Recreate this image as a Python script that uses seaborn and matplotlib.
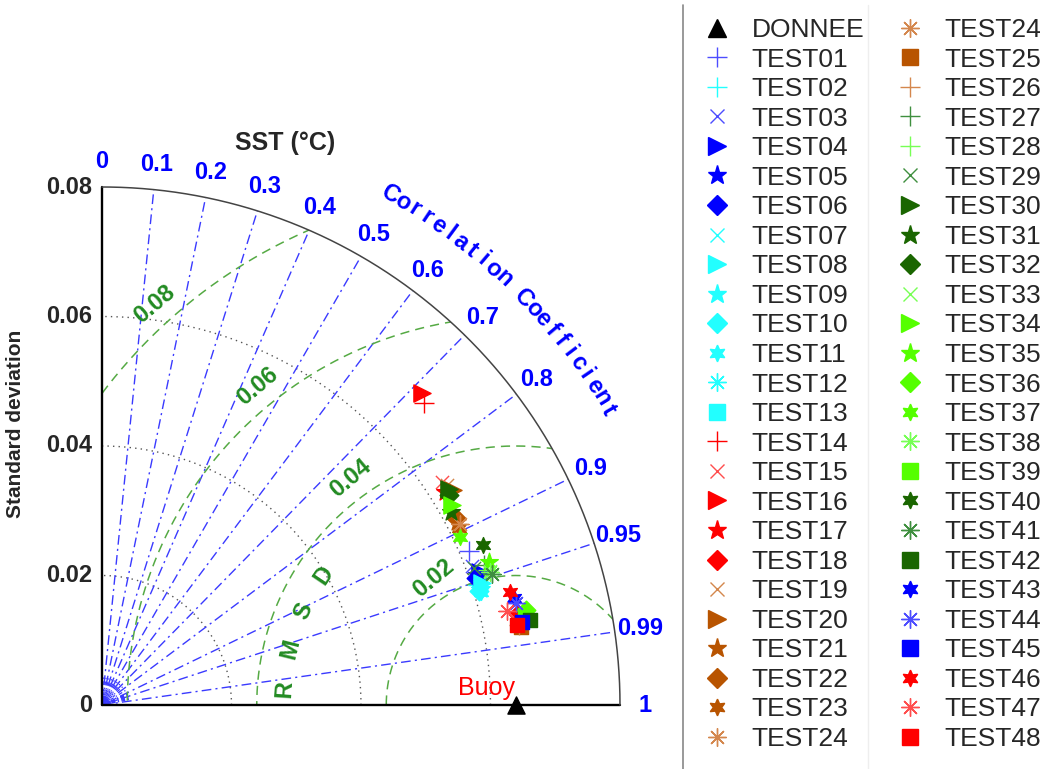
import numpy as np
import matplotlib
matplotlib.use("Agg")
import matplotlib.pyplot as plt
from matplotlib.lines import Line2D
from matplotlib.patches import Wedge
import seaborn as sns

# Data: standard deviation and correlation of each run against the buoy
names = ["DONNEE"] + ["TEST%02d" % i for i in range(1, 49)]
std_dev = [0.0639,
           0.0615, 0.0610, 0.0610, 0.0619, 0.0613, 0.0610, 0.0613, 0.0616,
           0.0613, 0.0609, 0.0611, 0.0612, 0.0658, 0.0682, 0.0628, 0.0690,
           0.0624, 0.0657, 0.0632, 0.0636, 0.0617, 0.0618, 0.0615, 0.0620,
           0.0658, 0.0656, 0.0628, 0.0632, 0.0612, 0.0631, 0.0616, 0.0626,
           0.0634, 0.0623, 0.0637, 0.0671, 0.0611, 0.0633, 0.0668, 0.0638,
           0.0635, 0.0674, 0.0657, 0.0659, 0.0661, 0.0654, 0.0642, 0.0653]
corr = [1.0,
        0.922, 0.953, 0.936, 0.943, 0.945, 0.947, 0.953, 0.952,
        0.956, 0.957, 0.958, 0.955, 0.981, 0.729, 0.836, 0.716,
        0.849, 0.977, 0.843, 0.853, 0.889, 0.884, 0.896, 0.892,
        0.983, 0.982, 0.939, 0.944, 0.938, 0.849, 0.875, 0.855,
        0.945, 0.868, 0.938, 0.976, 0.905, 0.946, 0.978, 0.922,
        0.948, 0.981, 0.968, 0.971, 0.981, 0.964, 0.974, 0.982]
ref_std = std_dev[0]

std_ticks = [0, 0.02, 0.04, 0.06, 0.08]
std_arcs = [0.02, 0.04, 0.06]
corr_ticks = [0, 0.1, 0.2, 0.3, 0.4, 0.5, 0.6, 0.7, 0.8, 0.9, 0.95, 0.99, 1]
corr_minor = [0.05, 0.15, 0.25, 0.35, 0.45, 0.55, 0.65, 0.75, 0.85,
              0.91, 0.92, 0.93, 0.94, 0.96, 0.97, 0.98]
rmsd_levels = [0.02, 0.04, 0.06, 0.08]
std_max = 0.08

# styles (marker, colour) for each run
BLUE, BLUE_L = "#0000ff", "#4d4dff"
CYAN = "#22ffff"
RED, RED_L = "#ff0000", "#ff4d4d"
BROWN, BROWN_L = "#b85400", "#d4874d"
DGREEN, MGREEN = "#1a6600", "#3f8f3f"
LGREEN, LGREEN_L = "#55ff00", "#77ff55"
STAR6 = (6, 1, 0)
AST = (8, 2, 0)
style = {
    "DONNEE": ("^", "black"),
    "TEST01": ("+", BLUE_L), "TEST02": ("+", CYAN), "TEST03": ("x", BLUE_L),
    "TEST04": (">", BLUE), "TEST05": ("*", BLUE), "TEST06": ("D", BLUE),
    "TEST07": ("x", CYAN), "TEST08": (">", CYAN), "TEST09": ("*", CYAN),
    "TEST10": ("D", CYAN), "TEST11": (STAR6, CYAN), "TEST12": (AST, CYAN),
    "TEST13": ("s", CYAN), "TEST14": ("+", RED), "TEST15": ("x", RED_L),
    "TEST16": (">", RED), "TEST17": ("*", RED), "TEST18": ("D", RED),
    "TEST19": ("x", BROWN_L), "TEST20": (">", BROWN), "TEST21": ("*", BROWN),
    "TEST22": ("D", BROWN), "TEST23": (STAR6, BROWN), "TEST24": (AST, BROWN_L),
    "TEST25": ("s", BROWN), "TEST26": ("+", BROWN_L), "TEST27": ("+", MGREEN),
    "TEST28": ("+", LGREEN_L), "TEST29": ("x", MGREEN), "TEST30": (">", DGREEN),
    "TEST31": ("*", DGREEN), "TEST32": ("D", DGREEN), "TEST33": ("x", LGREEN_L),
    "TEST34": (">", LGREEN), "TEST35": ("*", LGREEN), "TEST36": ("D", LGREEN),
    "TEST37": (STAR6, LGREEN), "TEST38": (AST, LGREEN_L), "TEST39": ("s", LGREEN),
    "TEST40": (STAR6, DGREEN), "TEST41": (AST, MGREEN), "TEST42": ("s", DGREEN),
    "TEST43": (STAR6, BLUE), "TEST44": (AST, BLUE_L), "TEST45": ("s", BLUE),
    "TEST46": (STAR6, RED), "TEST47": (AST, RED_L), "TEST48": ("s", RED),
}
# marker sizes (points) by marker kind
msize = {"^": 13, ">": 13, "*": 14, "D": 10, "s": 11, "+": 15, "x": 10,
         STAR6: 12, AST: 13}
LINE_MARKERS = ("+", "x", AST)

sns.set_theme(style="white")
plt.rcParams["font.family"] = ["Liberation Sans", "DejaVu Sans"]

fig = plt.figure(figsize=(10.53, 7.69), dpi=100)
PX = 6475.0  # pixels per std unit
ax = fig.add_axes([0, 0, 680 / 1053, 1])
ax.set_xlim(-102 / PX, 578 / PX)
ax.set_ylim(-64 / PX, 705 / PX)
ax.axis("off")


def pix(xp, yp):
    return (xp - 102) / PX, (705 - yp) / PX


# frame
ax.plot([0, 0], [0, std_max], color="black", lw=1.7, zorder=3)
ax.plot([0, std_max], [0, 0], color="black", lw=1.7, zorder=3)
th = np.linspace(0, np.pi / 2, 300)
ax.plot(std_max * np.cos(th), std_max * np.sin(th), color="#444444", lw=1.1, zorder=3)

# standard deviation arcs
for r in std_arcs:
    ax.plot(r * np.cos(th), r * np.sin(th), color="#555555", lw=1, ls=(0, (1, 3)), zorder=1)

# correlation rays
for c in corr_ticks[1:-1]:
    a = np.arccos(c)
    ax.plot([0, std_max * np.cos(a)], [0, std_max * np.sin(a)], color="#3a3aff",
            lw=1.0, ls=(0, (7, 3, 1.5, 3)), zorder=1)
for c in corr_minor:
    a = np.arccos(c)
    ax.plot([0, 0.0045 * np.cos(a)], [0, 0.0045 * np.sin(a)], color="#3a3aff",
            lw=0.9, ls=(0, (3, 2, 1, 2)), zorder=1)

# correlation labels
for c in corr_ticks:
    a = np.arccos(c)
    ax.text(0.0839 * np.cos(a), 0.0839 * np.sin(a), "%g" % c, color="blue",
            fontsize=17, fontweight="bold", ha="center", va="center")

title = "Correlation Coefficient"
angs = np.linspace(np.radians(60.5), np.radians(30.2), len(title))
for ch, a in zip(title, angs):
    ax.text(0.0905 * np.cos(a), 0.0905 * np.sin(a), ch, color="blue", fontsize=17,
            fontweight="bold", ha="center", va="center",
            rotation=np.degrees(a) - 90, rotation_mode="anchor")

# RMSD contours around the reference, kept inside the quadrant
clip = Wedge((0, 0), std_max, 0, 90, transform=ax.transData)
tc = np.linspace(0, np.pi, 400)
for r in rmsd_levels:
    ln, = ax.plot(ref_std + r * np.cos(tc), r * np.sin(tc), color="#55aa44",
                  lw=1.1, ls=(0, (6, 4)), zorder=2)
    ln.set_clip_path(clip)
    a = np.radians(120 + 150 * r)
    ax.text(ref_std + (r + 0.0033) * np.cos(a), (r + 0.0033) * np.sin(a), "%g" % r,
            color="#228b22", fontsize=17, fontweight="bold", ha="center",
            va="center", rotation=40)
for i, ch in enumerate("RMSD"):
    a = np.radians(176 - 10 * i)
    ax.text(ref_std + 0.0358 * np.cos(a), 0.0358 * np.sin(a), ch, color="#228b22",
            fontsize=17, fontweight="bold", ha="center", va="center",
            rotation=np.degrees(a) - 90)

# y ticks and labels
for v in std_ticks:
    ax.text(-10 / PX, v, "%g" % v, fontsize=17, fontweight="bold",
            ha="right", va="center")
ax.text(*pix(285, 143), "SST (°C)", fontsize=18, fontweight="bold",
        ha="center", va="center")
ax.text(*pix(16, 424), "Standard deviation", fontsize=15, fontweight="bold",
        ha="center", va="center", rotation=90)
ax.text(ref_std - 1 / PX, 5 / PX, "Buoy", color="red", fontsize=18,
        ha="right", va="bottom")

# points
for n, s, c in zip(names, std_dev, corr):
    m, col = style[n]
    a = np.arccos(c)
    filled = m not in LINE_MARKERS
    kw = dict(edgecolor=col) if filled else {}
    sns.scatterplot(x=[s * np.cos(a)], y=[s * np.sin(a)], marker=m, color=col,
                    s=(msize[m] * 0.95) ** 2, linewidth=1.0, ax=ax, legend=False,
                    zorder=6 if n == "DONNEE" else 5, clip_on=False, **kw)

# legend: two columns, TEST24 repeated as in the original
order = names[:25] + names[24:]
handles = []
for n in order:
    m, col = style[n]
    handles.append(Line2D([], [], ls="none", marker=m, color=col, markeredgecolor=col,
                          markersize=msize[m], markeredgewidth=1.0))
fig.legend(handles, order, ncol=2, loc="upper left",
           bbox_to_anchor=(704 / 1053, 1 - 18 / 769), frameon=False, fontsize=19,
           handlelength=1.0, handletextpad=0.8, columnspacing=1.25,
           labelspacing=0.21, borderaxespad=0, borderpad=0)

fig.add_artist(Line2D([683 / 1053] * 2, [0, 1 - 5 / 769], color="#888888", lw=1.2,
                      transform=fig.transFigure))
fig.add_artist(Line2D([868 / 1053] * 2, [0, 1 - 5 / 769], color="#eeeeee", lw=1.0,
                      transform=fig.transFigure))

fig.savefig("out.png", dpi=100)
